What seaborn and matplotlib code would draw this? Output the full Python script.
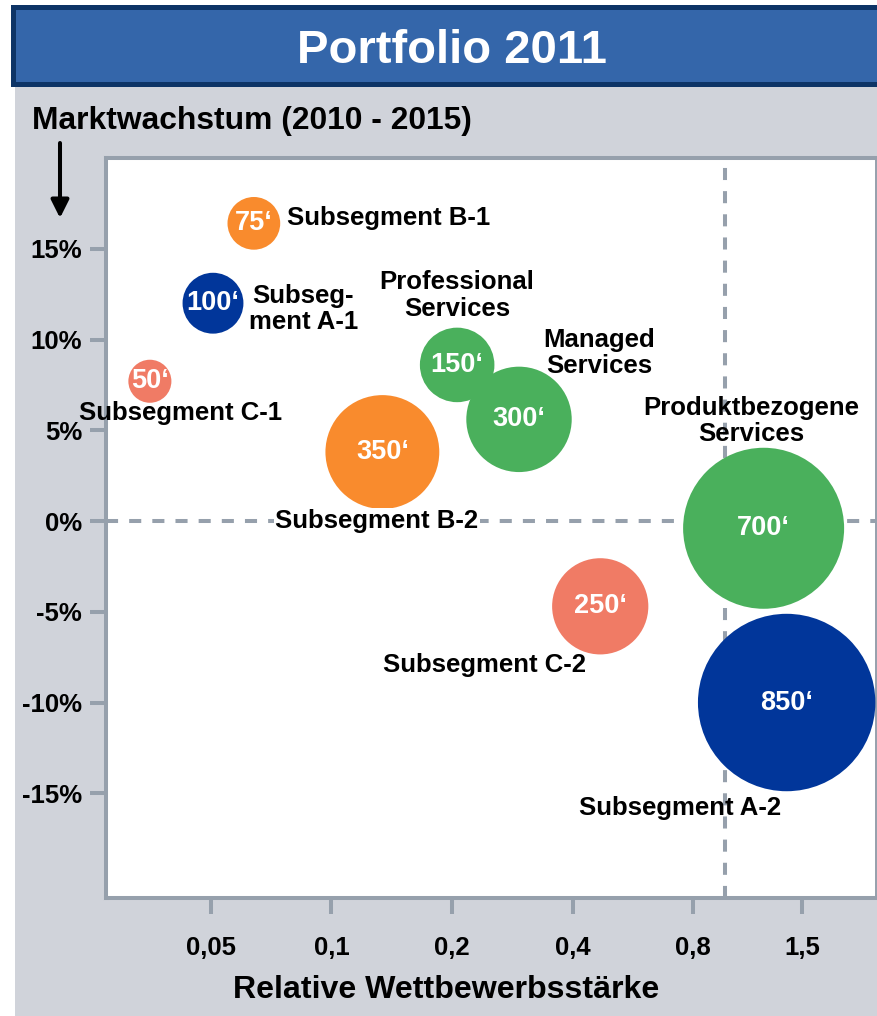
import matplotlib
matplotlib.use("Agg")
import matplotlib.pyplot as plt
from matplotlib.patches import Rectangle
from matplotlib.ticker import FixedLocator, FixedFormatter, NullLocator
import seaborn as sns
import pandas as pd

# ---- data -------------------------------------------------------------
segments = [
    "Subsegment B-1", "Subseg-\nment A-1", "Subsegment C-1",
    "Professional\nServices", "Managed\nServices", "Subsegment B-2",
    "Subsegment C-2", "Produktbezogene\nServices", "Subsegment A-2",
]
strength = [0.064, 0.0506, 0.0352, 0.206, 0.294, 0.134, 0.469, 1.20, 1.37]
growth = [16.4, 12.0, 7.7, 8.6, 5.6, 3.8, -4.7, -0.4, -10.0]
volume = [75, 100, 50, 150, 300, 350, 250, 700, 850]
group = ["B", "A", "C", "S", "S", "B", "C", "S", "A"]

x_ticks = [0.05, 0.1, 0.2, 0.4, 0.8, 1.5]
x_tick_labels = ["0,05", "0,1", "0,2", "0,4", "0,8", "1,5"]
y_ticks = [15, 10, 5, 0, -5, -10, -15]
y_tick_labels = ["15%", "10%", "5%", "0%", "-5%", "-10%", "-15%"]
threshold_x = 0.96
threshold_y = 0.0

# label placement relative to each bubble (points) and alignment
label_offsets = [(24, 4), (65, -4), (22, -23), (0, 50), (58, 48),
                 (-4, -50), (-83, -42), (-9, 77), (-77, -76)]
label_ha = ["left", "center", "center", "center", "center",
            "center", "center", "center", "center"]
label_on_white = {"Subsegment B-2"}

# ---- style ------------------------------------------------------------
PANEL = "#D0D3DA"
NAVY = "#0D3466"
TITLE_BLUE = "#3466AA"
AXIS_GREY = "#96A0AC"
palette = {"A": "#01369A", "B": "#F98B2D", "C": "#F07B65", "S": "#4AB05C"}

sns.set_style("white")
plt.rcParams["font.family"] = ["Liberation Sans", "DejaVu Sans"]
plt.rcParams["font.weight"] = "bold"

W, H = 877, 1016
fig = plt.figure(figsize=(W / 100, H / 100), dpi=100)
fig.patch.set_facecolor("white")

# grey panel and title banner
fig.add_artist(Rectangle((15 / W, 0), (W - 15) / W, (H - 87) / H,
                         transform=fig.transFigure, facecolor=PANEL,
                         edgecolor="none", zorder=-2))
fig.add_artist(Rectangle((11 / W, 1 - 87 / H), (W - 11) / W, 82 / H,
                         transform=fig.transFigure, facecolor=NAVY,
                         edgecolor="none", zorder=-2))
fig.add_artist(Rectangle((16 / W, 1 - 82 / H), (W - 16) / W, 72 / H,
                         transform=fig.transFigure, facecolor=TITLE_BLUE,
                         edgecolor="none", zorder=-1))
fig.text(452 / W, 1 - 63 / H, "Portfolio 2011", ha="center", va="baseline",
         color="white", fontsize=34, fontweight="bold")

fig.text(32 / W, 1 - 129 / H, "Marktwachstum (2010 - 2015)", ha="left",
         va="baseline", fontsize=22.9, fontweight="bold", color="black")
fig.text(446 / W, 1 - 998 / H, "Relative Wettbewerbsstärke", ha="center",
         va="baseline", fontsize=23.1, fontweight="bold", color="black")

# ---- plot area --------------------------------------------------------
ax = fig.add_axes([106 / W, 1 - 898 / H, 770 / W, 740 / H])
ax.set_facecolor("white")

df = pd.DataFrame({"strength": strength, "growth": growth,
                   "volume": volume, "group": group, "segment": segments})

K = 19.2  # marker area (pt^2) per unit of volume
sns.scatterplot(data=df, x="strength", y="growth", hue="group",
                palette=palette, size="volume",
                sizes=(min(volume) * K, max(volume) * K),
                size_norm=(min(volume), max(volume)),
                linewidth=0, alpha=1, legend=False, ax=ax, zorder=3)

ax.set_xscale("log", base=2)
ax.set_xlim(0.02735, 2.29)
ax.set_ylim(-20.77, 20.0)

ax.axhline(threshold_y, color=AXIS_GREY, lw=2.9, dashes=(3, 2.75), zorder=1)
ax.axvline(threshold_x, color=AXIS_GREY, lw=2.9, dashes=(3, 2.75), zorder=1)

ax.xaxis.set_major_locator(FixedLocator(x_ticks))
ax.xaxis.set_major_formatter(FixedFormatter(x_tick_labels))
ax.xaxis.set_minor_locator(NullLocator())
ax.yaxis.set_major_locator(FixedLocator(y_ticks))
ax.yaxis.set_major_formatter(FixedFormatter(y_tick_labels))

ax.tick_params(axis="both", which="major", bottom=True, left=True,
               direction="out", color=AXIS_GREY, width=2.9, length=11.5,
               labelsize=18.5, labelcolor="black")
ax.tick_params(axis="y", pad=5.8)
ax.tick_params(axis="x", pad=16)
for lab in ax.get_xticklabels() + ax.get_yticklabels():
    lab.set_fontweight("bold")

for side in ["left", "top", "bottom"]:
    ax.spines[side].set_color(AXIS_GREY)
    ax.spines[side].set_linewidth(2.9)
ax.spines["right"].set_color(AXIS_GREY)
ax.spines["right"].set_linewidth(1.4)

ax.set_xlabel("")
ax.set_ylabel("")

# values inside the bubbles and segment names next to them
for i, row in df.iterrows():
    ax.text(row["strength"], row["growth"], f"{row['volume']}\u2018",
            ha="center", va="center", color="white", fontsize=19.5,
            fontweight="bold", zorder=5)
    bbox = None
    if row["segment"] in label_on_white:
        bbox = dict(facecolor="white", edgecolor="none", pad=1)
    ax.annotate(row["segment"], xy=(row["strength"], row["growth"]),
                xytext=label_offsets[i], textcoords="offset points",
                ha=label_ha[i], va="center", multialignment="center",
                fontsize=18.5, fontweight="bold", color="black",
                linespacing=1.12, zorder=4, bbox=bbox)

# arrow next to the y-axis title
ax.annotate("", xy=(60 / W, 1 - 218 / H), xytext=(60 / W, 1 - 143 / H),
            xycoords="figure fraction", textcoords="figure fraction",
            annotation_clip=False,
            arrowprops=dict(arrowstyle="-|>,head_length=0.4,head_width=0.2",
                            mutation_scale=27, lw=2.9, color="black",
                            shrinkA=0, shrinkB=0))

fig.savefig("out.png", dpi=100)
